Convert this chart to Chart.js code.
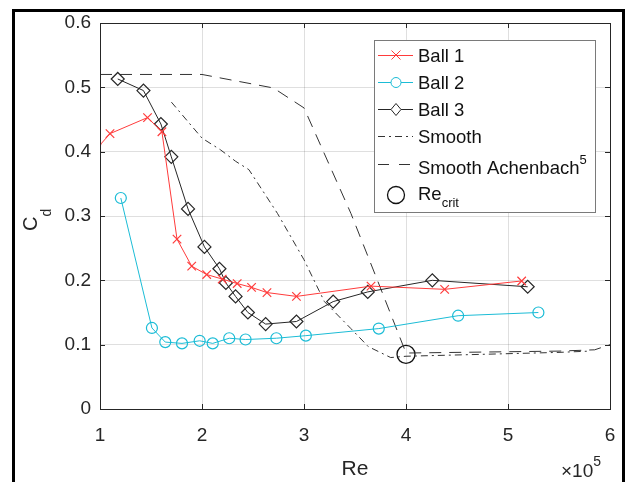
<!DOCTYPE html>
<html>
<head>
<meta charset="utf-8">
<script src="https://cdn.jsdelivr.net/npm/chart.js@4"></script>
<style>
  html, body { margin: 0; padding: 0; background: #fff; }
  #wrap { position: relative; width: 628px; height: 482px; }
</style>
</head>
<body>
<div id="wrap"><canvas id="cdChart"></canvas></div>
<script>
// Re values are in units of 1e5
const reBall1 = [0.97, 1.098, 1.466, 1.607, 1.755, 1.899, 2.046, 2.198, 2.345, 2.486, 2.637, 2.926, 3.657, 4.379, 5.134];
const cdBall1 = [0.405, 0.428, 0.453, 0.431, 0.264, 0.222, 0.209, 0.202, 0.195, 0.189, 0.181, 0.175, 0.191, 0.186, 0.199];

const reBall2 = [1.204, 1.509, 1.640, 1.804, 1.977, 2.105, 2.267, 2.427, 2.729, 3.018, 3.733, 4.511, 5.298];
const cdBall2 = [0.328, 0.126, 0.104, 0.102, 0.106, 0.102, 0.110, 0.108, 0.110, 0.114, 0.125, 0.145, 0.150];

const reBall3 = [1.174, 1.426, 1.597, 1.699, 1.863, 2.024, 2.171, 2.234, 2.329, 2.450, 2.624, 2.926, 3.286, 3.625, 4.258, 5.193];
const cdBall3 = [0.513, 0.495, 0.443, 0.392, 0.311, 0.252, 0.218, 0.196, 0.175, 0.150, 0.132, 0.136, 0.167, 0.182, 0.200, 0.190];

const reSmooth = [1.70, 2.0, 2.18, 2.33, 2.46, 2.74, 3.0, 3.2, 3.46, 3.63, 3.85, 4.0, 4.5, 5.0, 5.5, 5.8];
const cdSmooth = [0.477, 0.421, 0.403, 0.385, 0.372, 0.304, 0.232, 0.167, 0.125, 0.097, 0.080, 0.082, 0.084, 0.086, 0.088, 0.090];

const reAchenbach = [1.0, 2.0, 2.7, 3.0, 3.46, 3.72, 4.0, 4.5, 5.0, 5.5, 5.85, 6.0];
const cdAchenbach = [0.52, 0.52, 0.499, 0.468, 0.304, 0.2, 0.087, 0.088, 0.089, 0.090, 0.092, 0.1];

const reCrit = [4.0];
const cdCrit = [0.085];

const xTicks = [1, 2, 3, 4, 5, 6];
const yTicks = [0, 0.1, 0.2, 0.3, 0.4, 0.5, 0.6];

const red = '#ff3b3b';
const cyan = '#1bbcd6';
const dark = '#262626';
const FONT = '"Liberation Sans", Arial, Helvetica, sans-serif';

function pts(xs, ys) {
    return xs.map((x, i) => ({ x: x, y: ys[i] }));
}

function superText(ctx, parts, x, y) {
    // parts: [text, size, dy]
    parts.forEach(p => {
        ctx.font = p[1] + 'px ' + FONT;
        ctx.fillText(p[0], x, y + p[2]);
        x += ctx.measureText(p[0]).width;
    });
    return x;
}

const decorations = {
    id: 'decorations',
    afterDatasetsDraw(chart) {
        const ctx = chart.ctx;
        const a = chart.chartArea;
        const xs = chart.scales.x, ys = chart.scales.y;
        ctx.save();

        // axes box with inward ticks
        ctx.strokeStyle = dark;
        ctx.lineWidth = 1;
        ctx.strokeRect(Math.round(a.left) + 0.5, Math.round(a.top) + 0.5, Math.round(a.right - a.left), Math.round(a.bottom - a.top));
        ctx.beginPath();
        xTicks.forEach(v => {
            const px = Math.round(xs.getPixelForValue(v)) + 0.5;
            ctx.moveTo(px, a.bottom); ctx.lineTo(px, a.bottom - 5);
            ctx.moveTo(px, a.top); ctx.lineTo(px, a.top + 5);
        });
        yTicks.forEach(v => {
            const py = Math.round(ys.getPixelForValue(v)) + 0.5;
            ctx.moveTo(a.left, py); ctx.lineTo(a.left + 5, py);
            ctx.moveTo(a.right, py); ctx.lineTo(a.right - 5, py);
        });
        ctx.stroke();

        // legend
        const lx = 374.5, ly = 40.5, lw = 221, lh = 172;
        ctx.fillStyle = '#fff';
        ctx.fillRect(lx, ly, lw, lh);
        ctx.strokeStyle = '#7a7a7a';
        ctx.strokeRect(lx, ly, lw, lh);

        const rows = [55, 82, 109, 136, 164, 195];
        const x0 = 378, x1 = 413, xm = 396;
        ctx.lineWidth = 1;
        // Ball 1
        ctx.strokeStyle = red;
        ctx.beginPath(); ctx.moveTo(x0, rows[0] + 0.5); ctx.lineTo(x1, rows[0] + 0.5);
        ctx.moveTo(xm - 4.5, rows[0] - 4.5); ctx.lineTo(xm + 4.5, rows[0] + 4.5);
        ctx.moveTo(xm + 4.5, rows[0] - 4.5); ctx.lineTo(xm - 4.5, rows[0] + 4.5);
        ctx.stroke();
        // Ball 2
        ctx.strokeStyle = cyan;
        ctx.beginPath(); ctx.moveTo(x0, rows[1] + 0.5); ctx.lineTo(xm - 5, rows[1] + 0.5);
        ctx.moveTo(xm + 5, rows[1] + 0.5); ctx.lineTo(x1, rows[1] + 0.5); ctx.stroke();
        ctx.beginPath(); ctx.arc(xm, rows[1] + 0.5, 5, 0, Math.PI * 2); ctx.stroke();
        // Ball 3
        ctx.strokeStyle = dark;
        ctx.beginPath(); ctx.moveTo(x0, rows[2] + 0.5); ctx.lineTo(xm - 5, rows[2] + 0.5);
        ctx.moveTo(xm + 5, rows[2] + 0.5); ctx.lineTo(x1, rows[2] + 0.5); ctx.stroke();
        ctx.beginPath();
        ctx.moveTo(xm, rows[2] - 5.5); ctx.lineTo(xm + 5, rows[2] + 0.5);
        ctx.lineTo(xm, rows[2] + 6.5); ctx.lineTo(xm - 5, rows[2] + 0.5); ctx.closePath();
        ctx.stroke();
        // Smooth
        ctx.strokeStyle = '#333';
        ctx.setLineDash([7, 4, 2, 4]);
        ctx.beginPath(); ctx.moveTo(x0, rows[3] + 0.5); ctx.lineTo(x1, rows[3] + 0.5); ctx.stroke();
        // Achenbach
        ctx.setLineDash([11, 10]);
        ctx.beginPath(); ctx.moveTo(x0, rows[4] + 0.5); ctx.lineTo(x1 + 2, rows[4] + 0.5); ctx.stroke();
        ctx.setLineDash([]);
        // Re crit
        ctx.strokeStyle = '#111';
        ctx.lineWidth = 1.3;
        ctx.beginPath(); ctx.arc(xm, rows[5], 8.5, 0, Math.PI * 2); ctx.stroke();

        ctx.fillStyle = '#111';
        ctx.textBaseline = 'alphabetic';
        ctx.textAlign = 'left';
        const tx = 418;
        const fs = 18.5;
        superText(ctx, [['Ball 1', fs, 0]], tx, rows[0] + 7);
        superText(ctx, [['Ball 2', fs, 0]], tx, rows[1] + 7);
        superText(ctx, [['Ball 3', fs, 0]], tx, rows[2] + 7);
        superText(ctx, [['Smooth', fs, 0]], tx, rows[3] + 7);
        superText(ctx, [['Smooth Achenbach', fs, 0], ['5', 13, -10]], tx, 174);
        superText(ctx, [['Re', fs, 0], ['crit', 13, 7]], tx, 200);

        // axis labels
        ctx.fillStyle = dark;
        ctx.textAlign = 'center';
        ctx.font = '21px ' + FONT;
        ctx.fillText('Re', (a.left + a.right) / 2, 475);
        ctx.textAlign = 'left';
        superText(ctx, [['\u00d710', 19, 0], ['5', 14, -11]], 561, 477);

        ctx.save();
        ctx.translate(37, 231);
        ctx.rotate(-Math.PI / 2);
        ctx.textAlign = 'left';
        superText(ctx, [['C', 20, 0], ['d', 14, 14]], 0, 0);
        ctx.restore();

        // figure frame
        ctx.strokeStyle = '#000';
        ctx.lineWidth = 3;
        ctx.strokeRect(13.5, 10.5, 610, 500);
        ctx.restore();
    }
};

const ctx = document.getElementById('cdChart').getContext('2d');
const cdChart = new Chart(ctx, {
    type: 'scatter',
    data: {
        datasets: [
            {
                label: 'Ball 1',
                data: pts(reBall1, cdBall1),
                showLine: true,
                borderColor: red,
                backgroundColor: red,
                borderWidth: 1,
                pointStyle: 'crossRot',
                pointRadius: 6,
                pointBorderWidth: 1.2
            },
            {
                label: 'Ball 2',
                data: pts(reBall2, cdBall2),
                showLine: true,
                borderColor: cyan,
                backgroundColor: 'rgba(0,0,0,0)',
                borderWidth: 1,
                pointStyle: 'circle',
                pointRadius: 5.5,
                pointBorderWidth: 1.2
            },
            {
                label: 'Ball 3',
                data: pts(reBall3, cdBall3),
                showLine: true,
                borderColor: dark,
                backgroundColor: 'rgba(0,0,0,0)',
                borderWidth: 1,
                pointStyle: 'rectRot',
                pointRadius: 6.5,
                pointBorderWidth: 1.2
            },
            {
                label: 'Smooth',
                data: pts(reSmooth, cdSmooth),
                showLine: true,
                borderColor: '#333',
                borderWidth: 1,
                borderDash: [7, 4, 2, 4],
                pointRadius: 0
            },
            {
                label: 'Smooth Achenbach',
                data: pts(reAchenbach, cdAchenbach),
                showLine: true,
                borderColor: '#333',
                borderWidth: 1,
                borderDash: [12, 8],
                pointRadius: 0
            },
            {
                label: 'Re crit',
                data: pts(reCrit, cdCrit),
                showLine: false,
                borderColor: '#111',
                backgroundColor: 'rgba(0,0,0,0)',
                pointStyle: 'circle',
                pointRadius: 9,
                pointBorderWidth: 1.3
            }
        ]
    },
    options: {
        responsive: true,
        maintainAspectRatio: false,
        animation: false,
        events: [],
        layout: { padding: { left: 0, top: 23, right: 18, bottom: 0 } },
        plugins: {
            legend: { display: false },
            tooltip: { enabled: false }
        },
        scales: {
            x: {
                type: 'linear',
                min: 1,
                max: 6,
                afterFit: s => { s.height = 73; s.paddingRight = 0; s.paddingLeft = 0; },
                afterBuildTicks: s => { s.ticks = xTicks.map(v => ({ value: v })); },
                border: { display: false },
                grid: { color: 'rgba(38,38,38,0.15)', drawTicks: false },
                ticks: {
                    padding: 15,
                    color: dark,
                    font: { family: FONT, size: 19 },
                    maxRotation: 0,
                    callback: v => String(v)
                }
            },
            y: {
                type: 'linear',
                min: 0,
                max: 0.6,
                afterFit: s => { s.width = 100; s.paddingTop = 0; s.paddingBottom = 0; },
                afterBuildTicks: s => { s.ticks = yTicks.map(v => ({ value: v })); },
                border: { display: false },
                grid: { color: 'rgba(38,38,38,0.15)', drawTicks: false },
                ticks: {
                    padding: 9,
                    color: dark,
                    font: { family: FONT, size: 19 },
                    callback: v => String(+v.toFixed(1))
                }
            }
        }
    },
    plugins: [decorations]
});
</script>
</body>
</html>
